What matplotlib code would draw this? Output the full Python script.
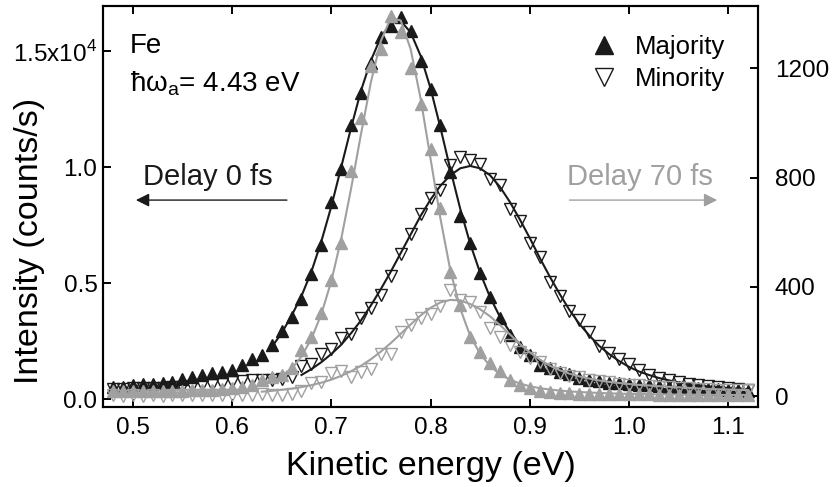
import matplotlib
matplotlib.use("Agg")
import matplotlib.pyplot as plt
from matplotlib.lines import Line2D
import numpy as np

plt.rcParams['font.family'] = ['Liberation Sans', 'DejaVu Sans']

# kinetic energy grid (eV), 0.48 ... 1.12
energy = np.round(np.arange(48, 113) * 0.01, 2)

# delay 0 fs, left axis (x1e4 counts/s)
maj_0fs = [0.053, 0.055, 0.062, 0.064, 0.068, 0.070, 0.076, 0.087, 0.095, 0.103, 0.112, 0.119,
           0.128, 0.146, 0.172, 0.192, 0.235, 0.295, 0.355, 0.430, 0.540, 0.665,
           0.850, 0.990, 1.180, 1.320, 1.450, 1.560, 1.610, 1.645, 1.585, 1.455,
           1.335, 1.180, 0.980, 0.790, 0.675, 0.545, 0.440, 0.350, 0.278, 0.225,
           0.190, 0.150, 0.133, 0.118, 0.108, 0.090, 0.082, 0.078, 0.072, 0.070,
           0.066, 0.062, 0.060, 0.058, 0.055, 0.053, 0.050, 0.048, 0.046, 0.044,
           0.042, 0.040, 0.038]
min_0fs = [0.045, 0.045, 0.047, 0.047, 0.050, 0.050, 0.052, 0.055, 0.057, 0.060, 0.063, 0.068,
           0.075, 0.080, 0.083, 0.083, 0.085, 0.089, 0.096, 0.145, 0.154, 0.195,
           0.215, 0.265, 0.280, 0.350, 0.395, 0.450, 0.530, 0.625, 0.710, 0.800,
           0.866, 0.900, 1.010, 1.045, 1.030, 1.015, 0.950, 0.922, 0.820, 0.768,
           0.675, 0.613, 0.506, 0.445, 0.380, 0.340, 0.290, 0.230, 0.200, 0.175,
           0.154, 0.128, 0.105, 0.090, 0.083, 0.075, 0.068, 0.062, 0.057, 0.053,
           0.048, 0.045, 0.042]
# fitted curves (start index into energy)
fit_maj_0fs_start = 16
fit_maj_0fs = [0.225, 0.285, 0.36, 0.445, 0.55, 0.68,
               0.83, 1.0, 1.17, 1.33, 1.46, 1.56, 1.62, 1.63, 1.58, 1.48,
               1.34, 1.17, 0.99, 0.82, 0.67, 0.545, 0.44, 0.355, 0.29, 0.235,
               0.195, 0.165, 0.14, 0.12, 0.105, 0.093, 0.083, 0.075, 0.068, 0.062,
               0.057, 0.053, 0.049, 0.046, 0.043, 0.041, 0.039, 0.037, 0.035, 0.034,
               0.033, 0.032, 0.031]
fit_min_0fs_start = 19
fit_min_0fs = [0.105, 0.13, 0.16,
               0.195, 0.235, 0.285, 0.34, 0.405, 0.475, 0.55, 0.63, 0.71, 0.79,
               0.86, 0.92, 0.965, 0.995, 1.005, 0.995, 0.965, 0.915, 0.85, 0.775,
               0.695, 0.61, 0.53, 0.455, 0.385, 0.325, 0.275, 0.23, 0.195, 0.165,
               0.14, 0.12, 0.105, 0.092, 0.082, 0.073, 0.066, 0.06, 0.055, 0.051,
               0.048, 0.045, 0.043]

# delay 70 fs, right axis (counts/s)
maj_70fs = [20, 18, 18, 18, 18, 18, 20, 20, 22, 22, 24, 26,
            28, 32, 40, 59, 70, 78, 102, 168, 215, 305,
            425, 560, 823, 1019, 1210, 1270, 1390, 1331, 1200, 1070,
            905, 690, 455, 334, 215, 160, 120, 90, 60, 42,
            28, 18, 14, 12, 10, 9, 8, 8, 7, 7,
            6, 6, 6, 5, 5, 5, 5, 4, 4, 4,
            4, 3, 3]
min_70fs = [3, 2, 3, 2, 3, 2, 3, 3, 4, 3, 4, 4,
            5, 4, 5, 6, 4, 5, 8, 20, 48, 50,
            83, 92, 68, 88, 100, 155, 155, 236, 261, 285,
            300, 328, 389, 352, 346, 309, 248, 218, 187, 160,
            140, 125, 100, 85, 75, 68, 60, 55, 50, 46,
            42, 40, 37, 35, 33, 31, 29, 27, 25, 24,
            23, 22, 21]
fit_maj_70fs_start = 17
fit_maj_70fs = [75, 100, 145, 210, 300,
                420, 575, 760, 960, 1150, 1300, 1385, 1375, 1270, 1090,
                870, 650, 460, 320, 220, 155, 110, 80, 60, 46,
                36, 29, 24, 20, 17, 15, 13, 11.5, 10, 9,
                8, 7.5, 7, 6.5, 6, 5.5, 5, 5, 4.5, 4.5,
                4, 4, 4]
fit_min_70fs_start = 15
fit_min_70fs = [16, 19, 23, 27, 33, 40, 49,
                60, 74, 91, 111, 135, 163, 194, 228, 262, 295,
                323, 343, 352, 350, 337, 318, 292, 260, 226, 191,
                160, 134, 112, 95, 82, 72, 64, 57, 52, 48,
                44, 41, 39, 36, 34, 32, 30, 28, 26, 25,
                24, 23, 22]

BLACK = '#1a1a1a'
GRAY = '#a0a0a0'
ms = 9

fig = plt.figure(figsize=(8.34, 4.87), dpi=100)
ax = fig.add_axes([103 / 834, 1 - 407 / 487, 655 / 834, 401 / 487])
ax2 = ax.twinx()

scale = 1e4
ax.plot(energy, np.array(maj_0fs) * scale, ls='none', marker='^', ms=ms,
        mfc=BLACK, mec=BLACK, zorder=3)
ax.plot(energy, np.array(min_0fs) * scale, ls='none', marker='v', ms=ms,
        mfc='none', mec=BLACK, mew=1.0, zorder=3)
ax.plot(energy[fit_maj_0fs_start:], np.array(fit_maj_0fs) * scale, color=BLACK, lw=1.5, zorder=4)
ax.plot(energy[fit_min_0fs_start:], np.array(fit_min_0fs) * scale, color=BLACK, lw=1.5, zorder=4)

ax2.plot(energy, maj_70fs, ls='none', marker='^', ms=ms, mfc=GRAY, mec=GRAY, zorder=3)
ax2.plot(energy, min_70fs, ls='none', marker='v', ms=ms, mfc='none', mec=GRAY, mew=1.0, zorder=3)
ax2.plot(energy[fit_maj_70fs_start:], fit_maj_70fs, color=GRAY, lw=1.5, zorder=4)
ax2.plot(energy[fit_min_70fs_start:], fit_min_70fs, color=GRAY, lw=1.5, zorder=4)

ax.set_xlim(0.47, 1.13)
ax.set_ylim(-330, 16940)
ax2.set_ylim(-40, 1428)

ax.set_xticks([0.5, 0.6, 0.7, 0.8, 0.9, 1.0, 1.1])
ax.set_xticklabels(['0.5', '0.6', '0.7', '0.8', '0.9', '1.0', '1.1'])
ax.set_yticks([0, 5000, 10000, 15000])
ax.set_yticklabels(['0.0', '0.5', '1.0', r'1.5x10$^{\mathregular{4}}$'])
ax2.set_yticks([0, 400, 800, 1200])

for a in (ax, ax2):
    for s in a.spines.values():
        s.set_linewidth(1.5)
ax.tick_params(axis='x', direction='in', length=6, width=1.4, labelsize=17.5, pad=7, top=True)
ax.tick_params(axis='y', direction='in', length=6, width=1.4, labelsize=17.5, pad=4)
ax2.tick_params(axis='y', direction='in', length=6, width=1.4, labelsize=17.5, pad=12)

ax.set_xlabel('Kinetic energy (eV)', fontsize=24.5, labelpad=9)
ax.set_ylabel('Intensity (counts/s)', fontsize=24.5)
ax.yaxis.set_label_coords(-0.088, 0.415)

ax.text(0.041, 0.90, 'Fe', transform=ax.transAxes, fontsize=20, va='center', ha='left')
ax.text(0.041, 0.807, r'ħω$_\mathregular{a}$= 4.43 eV', transform=ax.transAxes,
        fontsize=20, va='center', ha='left')
ax.text(0.061, 0.574, 'Delay 0 fs', transform=ax.transAxes, fontsize=21,
        va='center', ha='left', color=BLACK)
ax.text(0.708, 0.574, 'Delay 70 fs', transform=ax.transAxes, fontsize=21,
        va='center', ha='left', color=GRAY)
ax.annotate('', xy=(0.046, 0.516), xytext=(0.285, 0.516), xycoords='axes fraction',
            arrowprops=dict(arrowstyle='-|>', color=BLACK, lw=1.0, mutation_scale=20))
ax.annotate('', xy=(0.942, 0.516), xytext=(0.708, 0.516), xycoords='axes fraction',
            arrowprops=dict(arrowstyle='-|>', color=GRAY, lw=1.0, mutation_scale=20))

handles = [Line2D([], [], ls='none', marker='^', ms=13, mfc=BLACK, mec=BLACK),
           Line2D([], [], ls='none', marker='v', ms=13, mfc='none', mec=BLACK, mew=1.0)]
ax2.legend(handles, ['Majority', 'Minority'], loc='upper right', frameon=False,
           fontsize=18.5, bbox_to_anchor=(0.985, 0.985), handletextpad=0.6,
           labelspacing=0.3, handlelength=1.2)

fig.savefig('out.png', dpi=100)
